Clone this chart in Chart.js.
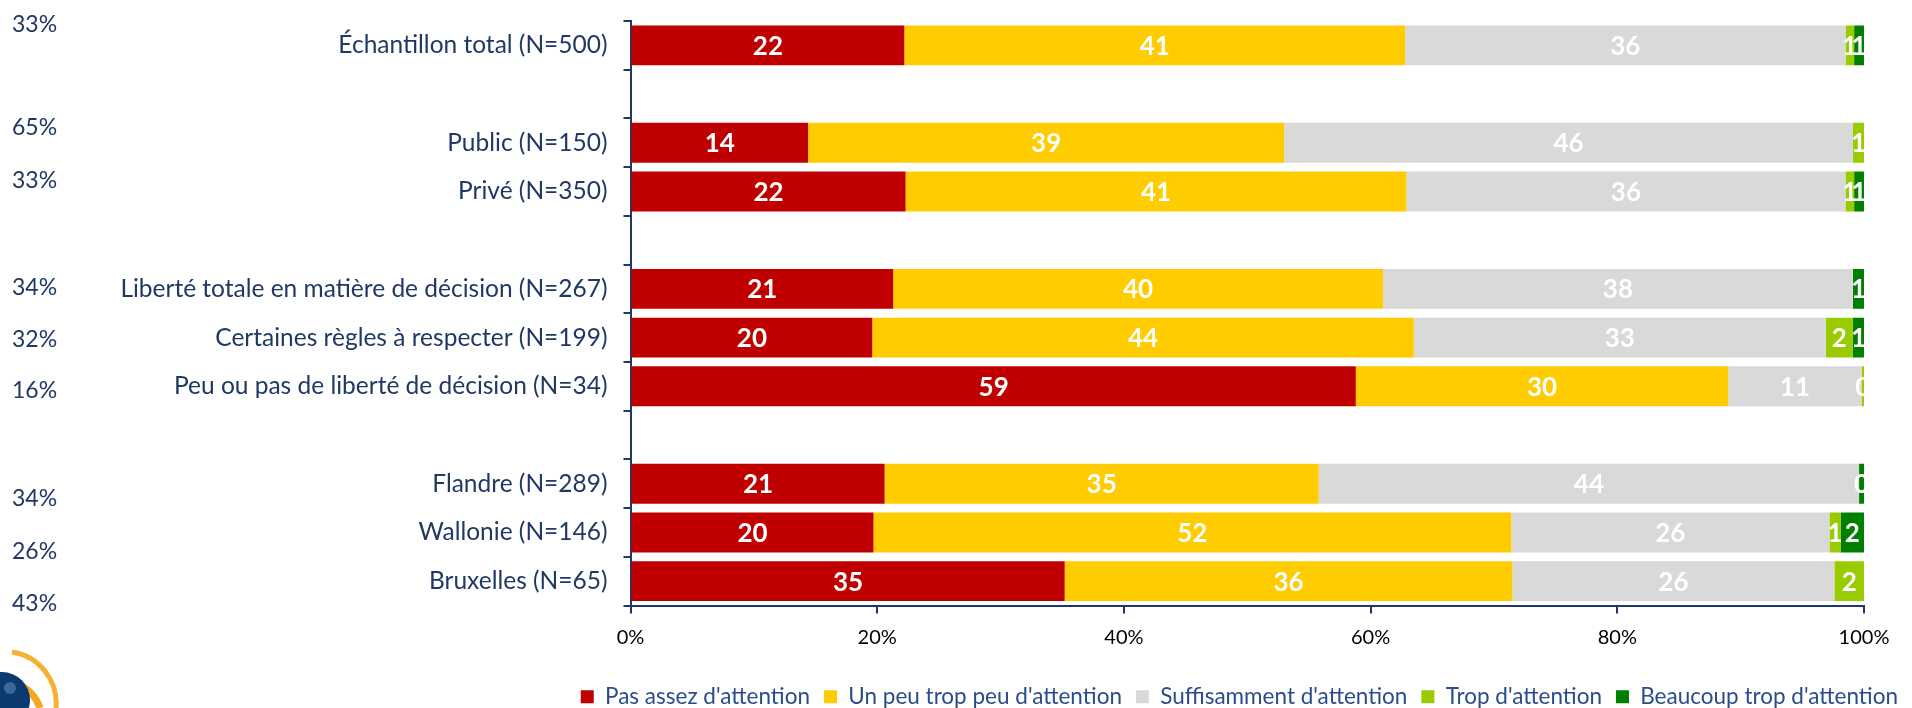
<!DOCTYPE html>
<html>
<head>
<meta charset="utf-8">
<script src="https://cdn.jsdelivr.net/npm/chart.js@4/dist/chart.umd.min.js"></script>
<style>
  html, body { margin: 0; padding: 0; background: #fff; }
  #wrap { position: relative; width: 1912px; height: 708px; overflow: hidden; }
  #chart { position: absolute; left: 0; top: 0; }
  .share { position: absolute; left: 12px; font: 23px Lato, sans-serif; color: #1F3864; line-height: 24px; transform: translateY(-50%); }
  #logo { position: absolute; left: 0; top: 640px; }
</style>
</head>
<body>
<div id="wrap">
  <canvas id="chart" width="1912" height="708"></canvas>
  <svg id="logo" width="70" height="68" viewBox="0 640 70 68">
    <path d="M -20 690 A 38 38 0 0 1 40 708" fill="none" stroke="#F4A81D" stroke-width="7"/>
    <path d="M 12 652 A 52 52 0 0 1 56 708" fill="none" stroke="#F4A81D" stroke-width="5" opacity="0.9"/>
    <circle cx="2" cy="700" r="28" fill="#0B3A6E"/>
    <circle cx="10" cy="688" r="6" fill="#5C86B8" opacity="0.6"/>
  </svg>
</div>
<script>
const categories = [
  'Échantillon total (N=500)',
  '',
  'Public (N=150)',
  'Privé (N=350)',
  '',
  'Liberté totale en matière de décision (N=267)',
  'Certaines règles à respecter (N=199)',
  'Peu ou pas de liberté de décision (N=34)',
  '',
  'Flandre (N=289)',
  'Wallonie (N=146)',
  'Bruxelles (N=65)'
];

const seriesNames = [
  "Pas assez d'attention",
  "Un peu trop peu d'attention",
  "Suffisamment d'attention",
  "Trop d'attention",
  "Beaucoup trop d'attention"
];

// % per category, blanks are spacer rows
const pasAssez     = [22.2, null, 14.4, 22.3, null, 21.3, 19.6, 58.8, null, 20.6, 19.7, 35.2];
const unPeuTropPeu = [40.6, null, 38.6, 40.6, null, 39.7, 43.9, 30.2, null, 35.2, 51.7, 36.3];
const suffisamment = [35.7, null, 46.1, 35.6, null, 38.1, 33.4, 10.8, null, 43.8, 25.8, 26.1];
const trop         = [0.7,  null, 0.9,  0.7,  null, 0,    2.2,  0.2,  null, 0,    0.9,  2.4];
const beaucoupTrop = [0.8,  null, 0,    0.8,  null, 0.9,  0.9,  0,    null, 0.4,  1.9,  0];

// share of each group, shown in the left margin
const shareLabels = ['33%', '65%', '33%', '34%', '32%', '16%', '34%', '26%', '43%'];
const shareY = [23, 126, 179, 286, 338, 389, 497, 550, 602];

const colors = ['#C00000', '#FFCC00', '#D9D9D9', '#99CC00', '#008000'];
const navy = '#1F3864';

const wrap = document.getElementById('wrap');
shareLabels.forEach((t, i) => {
  const d = document.createElement('div');
  d.className = 'share';
  d.style.top = shareY[i] + 'px';
  d.textContent = t;
  wrap.appendChild(d);
});

const segmentLabels = {
  id: 'segmentLabels',
  afterDatasetsDraw(chart) {
    const { ctx, chartArea } = chart;
    ctx.save();
    ctx.beginPath();
    ctx.rect(chartArea.left, chartArea.top, chartArea.width, chartArea.height);
    ctx.clip();
    ctx.font = 'bold 26px Lato';
    ctx.fillStyle = '#fff';
    ctx.textAlign = 'center';
    ctx.textBaseline = 'middle';
    chart.data.datasets.forEach((ds, di) => {
      chart.getDatasetMeta(di).data.forEach((bar, i) => {
        const v = ds.data[i];
        if (!v) return;
        ctx.fillText(String(Math.round(v)), (bar.x + bar.base) / 2, bar.y + 1);
      });
    });
    ctx.restore();
  }
};

const series = [pasAssez, unPeuTropPeu, suffisamment, trop, beaucoupTrop];

new Chart(document.getElementById('chart'), {
  type: 'bar',
  data: {
    labels: categories,
    datasets: series.map((data, i) => ({
      label: seriesNames[i],
      data: data,
      backgroundColor: colors[i],
      borderWidth: 0,
      barPercentage: 0.82,
      categoryPercentage: 1
    }))
  },
  options: {
    indexAxis: 'y',
    responsive: false,
    animation: false,
    layout: { padding: { top: 21, left: 0, right: 0, bottom: -10 } },
    scales: {
      x: {
        stacked: true,
        min: 0,
        max: 100,
        ticks: {
          stepSize: 20,
          color: '#000',
          font: { family: 'Lato', size: 20 },
          padding: 12,
          callback: v => v + '%'
        },
        grid: { display: true, drawOnChartArea: false, tickLength: 8, color: navy, lineWidth: 2 },
        border: { display: true, color: navy, width: 2 },
        afterFit(s) {
          s.height = 66;
          s.paddingLeft = 0;
          s.paddingRight = 48;
        }
      },
      y: {
        stacked: true,
        ticks: {
          color: navy,
          font: { family: 'Lato', size: 24.5 },
          padding: 16,
          autoSkip: false
        },
        grid: { display: true, drawOnChartArea: false, tickLength: 7, color: navy, lineWidth: 2 },
        border: { display: true, color: navy, width: 2 },
        afterFit(s) {
          s.width = 630.5;
          s.paddingTop = 0;
          s.paddingBottom = 0;
        }
      }
    },
    plugins: {
      legend: {
        position: 'bottom',
        align: 'end',
        labels: {
          boxWidth: 13,
          boxHeight: 13,
          padding: 14,
          color: '#2B4C8C',
          font: { family: 'Lato', size: 22.5 }
        }
      },
      tooltip: { enabled: false }
    }
  },
  plugins: [segmentLabels]
});
</script>
</body>
</html>
